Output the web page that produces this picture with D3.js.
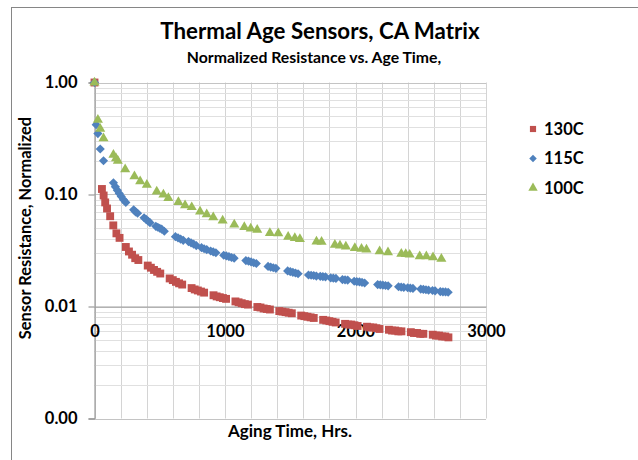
<!DOCTYPE html>
<html>
<head>
<meta charset="utf-8">
<script src="https://cdn.jsdelivr.net/npm/d3@7"></script>
<style>
    body { margin: 0; background: #fff; }
    text { font-family: "Lato", "Open Sans", sans-serif; font-weight: bold; fill: #000; }
</style>
</head>
<body>
<svg id="chart" width="638" height="460"></svg>
<script>
// data: [hours, normalized resistance]
var data130 = [[0,1.0],
    [57,0.112],[70,0.098],[82,0.085],[96,0.075],[120,0.064],[144,0.053],[168,0.045],[192,0.041],
    [240,0.034],[264,0.031],[288,0.029],[312,0.027],[336,0.026],
    [408,0.0232],[432,0.0222],[456,0.0212],[480,0.0204],[504,0.0197],
    [576,0.0178],[600,0.0172],[624,0.0166],[648,0.0161],[672,0.0157],
    [744,0.0146],[768,0.0142],[792,0.0139],[816,0.0136],[840,0.0133],
    [912,0.0126],[936,0.0123],[960,0.0121],[984,0.0119],[1008,0.0117],
    [1080,0.0111],[1104,0.0109],[1128,0.0107],[1152,0.0105],[1176,0.0104],
    [1248,0.0099],[1272,0.0098],[1296,0.0096],[1320,0.0095],[1344,0.0094],
    [1416,0.0091],[1440,0.0090],[1464,0.0089],[1488,0.0088],[1512,0.0087],
    [1584,0.0083],[1608,0.0082],[1632,0.0081],[1656,0.0080],[1680,0.0079],
    [1752,0.0076],[1776,0.0075],[1800,0.0074],[1824,0.0073],[1848,0.0072],
    [1920,0.0070],[1944,0.0069],[1968,0.0069],[1992,0.0068],[2016,0.0067],
    [2088,0.0066],[2112,0.0065],[2136,0.0065],[2160,0.0064],[2184,0.0063],
    [2256,0.0062],[2280,0.0061],[2304,0.0061],[2328,0.0060],[2352,0.0060],
    [2424,0.0059],[2448,0.0058],[2472,0.0058],[2496,0.0057],[2520,0.0057],
    [2592,0.0056],[2616,0.0055],[2640,0.0055],[2664,0.0054],[2688,0.0054],[2712,0.0053]];

var data115 = [[0,1.0],[13,0.42],[26,0.35],[44,0.255],[69,0.20],
    [145,0.127],[160,0.117],[175,0.109],[190,0.102],[205,0.096],[222,0.090],[240,0.085],
    [300,0.073],[315,0.070],[330,0.068],
    [380,0.062],[395,0.060],[410,0.058],[425,0.056],
    [470,0.052],[485,0.051],[500,0.050],[515,0.049],[535,0.047],
    [620,0.042],[640,0.041],[660,0.040],[680,0.039],
    [720,0.038],[740,0.037],[760,0.036],[780,0.035],
    [820,0.0335],[840,0.0328],[860,0.0322],
    [890,0.0313],[910,0.0307],[930,0.0302],
    [990,0.0287],[1010,0.0283],[1030,0.0279],[1050,0.0274],[1070,0.0270],
    [1160,0.0257],[1180,0.0254],[1200,0.0250],[1220,0.0246],[1240,0.0242],
    [1330,0.0228],[1350,0.0225],[1370,0.0222],[1390,0.0219],
    [1480,0.0208],[1500,0.0205],[1520,0.0202],[1540,0.0199],[1560,0.0196],
    [1640,0.0191],[1660,0.0190],[1680,0.0189],[1700,0.0187],
    [1730,0.0186],[1750,0.0185],[1770,0.0184],
    [1810,0.0180],[1830,0.0179],[1850,0.0178],
    [1900,0.0174],[1920,0.0173],[1940,0.0172],
    [1990,0.0168],[2010,0.0167],[2030,0.0166],[2050,0.0164],[2070,0.0162],
    [2170,0.0157],[2190,0.0156],[2210,0.0155],[2230,0.0154],[2250,0.0153],
    [2330,0.0150],[2350,0.0149],[2370,0.0148],
    [2400,0.0147],[2420,0.0146],[2440,0.0145],
    [2500,0.0143],[2520,0.0142],[2540,0.0141],[2560,0.0140],
    [2590,0.0139],[2610,0.0138],
    [2650,0.0136],[2670,0.0135],[2690,0.0135],[2710,0.0134]];

var data100 = [[0,1.0],[26,0.465],[44,0.386],[69,0.318],
    [145,0.226],[165,0.21],[179,0.20],[235,0.168],
    [306,0.145],[350,0.131],[401,0.122],[477,0.106],[528,0.100],[566,0.093],
    [643,0.0855],[694,0.080],[745,0.077],[809,0.0705],[860,0.0665],[910,0.0625],
    [982,0.0586],[1071,0.0540],[1148,0.0512],[1197,0.0496],[1247,0.0484],
    [1344,0.0453],[1408,0.0450],[1484,0.0418],[1535,0.0408],[1574,0.0400],
    [1701,0.0380],[1740,0.0378],[1842,0.0356],[1881,0.0350],[1926,0.0343],
    [1995,0.0333],[2046,0.0328],[2084,0.0322],
    [2185,0.0311],[2249,0.0305],
    [2351,0.0296],[2385,0.0294],[2415,0.0290],
    [2492,0.0281],[2543,0.0280],[2594,0.0275],[2658,0.0266]];

var seriesNames = ["130C", "115C", "100C"];
var seriesColors = ["#C0504D", "#4F81BD", "#9BBB59"];
var yTicks = [1, 0.1, 0.01, 0.001];
var xTicks = [0, 1000, 2000, 3000];

var svg = d3.select("#chart");

// outer chart frame (runs off the right and bottom of the picture)
svg.append("rect")
    .attr("x", 11.5).attr("y", 7.5)
    .attr("width", 700).attr("height", 600)
    .attr("fill", "none")
    .attr("stroke", "#868686");

// scales
var x = d3.scaleLinear().domain([0, 3000]).range([94.5, 486]);
var y = d3.scaleLog().domain([0.001, 1]).range([418.5, 82.5]);

// gridlines
var grid = svg.append("g").attr("class", "grid");
var vLines = d3.range(0, 3001, 200);
grid.selectAll(".vgrid")
    .data(vLines)
    .enter().append("line")
    .attr("x1", function (d) { return Math.round(x(d)) + 0.5; })
    .attr("x2", function (d) { return Math.round(x(d)) + 0.5; })
    .attr("y1", y(1)).attr("y2", y(0.001))
    .attr("stroke", "#d4d4d4");

var hLines = [];
[0.001, 0.01, 0.1].forEach(function (dec) {
    for (var k = 1; k < 10; k++) hLines.push(dec * k);
});
hLines.push(1);
grid.selectAll(".hgrid")
    .data(hLines)
    .enter().append("line")
    .attr("x1", x(0)).attr("x2", x(3000))
    .attr("y1", function (d) { return Math.round(y(d)) + 0.5; })
    .attr("y2", function (d) { return Math.round(y(d)) + 0.5; })
    .attr("stroke", function (d) {
        return yTicks.indexOf(+d.toPrecision(3)) >= 0 ? "#c4c4c4" : "#e0e0e0";
    });

// y axis
var yAxis = svg.append("g")
    .attr("transform", "translate(" + x(0) + ",0)")
    .call(d3.axisLeft(y)
        .tickValues(yTicks)
        .tickFormat(d3.format(".2f"))
        .tickSize(6)
        .tickPadding(11));
yAxis.select(".domain").attr("stroke", "#868686");
yAxis.selectAll(".tick line").attr("stroke", "#868686");
yAxis.selectAll("text")
    .attr("font-size", 16.5)
    .attr("font-family", null)
    .attr("fill", "#000");

// x axis crosses at 0.01
var xAxis = svg.append("g")
    .attr("transform", "translate(0," + y(0.01) + ")")
    .call(d3.axisBottom(x)
        .tickValues(xTicks)
        .tickFormat(d3.format("d"))
        .tickSize(0));
xAxis.select(".domain").attr("stroke", "#a0a0a0");
xAxis.selectAll("text")
    .attr("font-size", 16.5)
    .attr("font-family", null)
    .attr("fill", "#000")
    .attr("y", 30)
    .attr("dy", 0);

// markers: square, square diamond (rotated square), triangle
var allSeries = [data130, data115, data100];
var shapes = [d3.symbolSquare, d3.symbolSquare, d3.symbolTriangle];
var rotations = [0, 45, 0];
var sizes = [62, 42, 44];

allSeries.forEach(function (series, i) {
    svg.append("g")
        .selectAll("path")
        .data(series)
        .enter().append("path")
        .attr("transform", function (d) {
            return "translate(" + x(d[0]) + "," + y(d[1]) + ") rotate(" + rotations[i] + ")";
        })
        .attr("d", d3.symbol().type(shapes[i]).size(sizes[i]))
        .attr("fill", seriesColors[i]);
});

// titles
svg.append("text")
    .attr("x", 320).attr("y", 39)
    .attr("text-anchor", "middle")
    .attr("font-size", 22.3)
    .text("Thermal Age Sensors, CA Matrix");

svg.append("text")
    .attr("x", 314).attr("y", 63)
    .attr("text-anchor", "middle")
    .attr("font-size", 15.8)
    .text("Normalized Resistance vs. Age Time,");

svg.append("text")
    .attr("transform", "translate(31,228) rotate(-90)")
    .attr("text-anchor", "middle")
    .attr("font-size", 16.4)
    .text("Sensor Resistance, Normalized");

svg.append("text")
    .attr("x", 290).attr("y", 437)
    .attr("text-anchor", "middle")
    .attr("font-size", 17)
    .text("Aging Time, Hrs.");

// legend
var legend = svg.append("g").attr("transform", "translate(533,129)");
seriesNames.forEach(function (name, i) {
    var row = legend.append("g").attr("transform", "translate(0," + (i * 29.5) + ")");
    row.append("path")
        .attr("transform", "rotate(" + rotations[i] + ")")
        .attr("d", d3.symbol().type(shapes[i]).size(i === 1 ? 28 : 38))
        .attr("fill", seriesColors[i]);
    row.append("text")
        .attr("x", 11)
        .attr("dy", "0.36em")
        .attr("font-size", 16.5)
        .text(name);
});
</script>
</body>
</html>
